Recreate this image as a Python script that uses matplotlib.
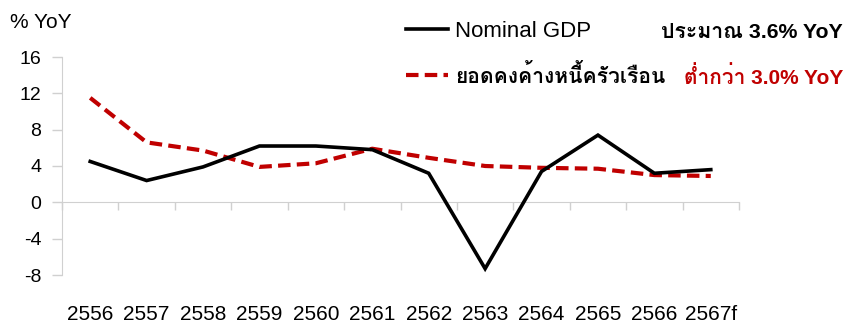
import matplotlib
matplotlib.use("Agg")
import matplotlib.pyplot as plt
import numpy as np

plt.rcParams['font.family'] = ['Liberation Sans', 'Loma']
plt.rcParams['axes.unicode_minus'] = False

years = ['2556', '2557', '2558', '2559', '2560', '2561',
         '2562', '2563', '2564', '2565', '2566', '2567f']
nominal_gdp = [4.5, 2.4, 3.9, 6.2, 6.2, 5.8, 3.2, -7.3, 3.4, 7.4, 3.2, 3.6]
household_debt = [11.5, 6.6, 5.7, 3.9, 4.3, 5.9, 4.9, 4.0, 3.8, 3.7, 3.0, 2.9]
yticks = [-8, -4, 0, 4, 8, 12, 16]

RED = '#C00000'
GREY = '#D0D0D0'

fig = plt.figure(figsize=(8.46, 3.25), dpi=100)
ax = fig.add_axes([62 / 846, 1 - 275 / 325, 677 / 846, 218 / 325])

x = np.arange(len(years))
ax.plot(x, household_debt, color=RED, lw=3.0, dashes=(3.0, 1.5),
        label='ยอดคงค้างหนี้ครัวเรือน', zorder=2)
ax.plot(x, nominal_gdp, color='black', lw=2.6, solid_joinstyle='miter',
        label='Nominal GDP', zorder=3)

ax.set_xlim(-0.5, len(years) - 0.5)
ax.set_ylim(-8, 16)
ax.set_yticks(yticks)
ax.tick_params(axis='y', length=7, width=1, color=GREY, pad=8, labelsize=14)

# category labels sit at the bottom, separators hang from the zero line
ax.set_xticks(x, years)
ax.set_xticks(np.arange(len(years) + 1) - 0.5, minor=True)
ax.tick_params(axis='x', which='major', length=0, pad=74, labelsize=15)
ax.tick_params(axis='x', which='minor', length=6, width=1, color=GREY)

for side in ('top', 'right'):
    ax.spines[side].set_visible(False)
ax.spines['bottom'].set_position(('data', 0))
ax.spines['left'].set_color(GREY)
ax.spines['bottom'].set_color(GREY)

fig.text(10 / 846, 1 - 22 / 325, '% YoY', fontsize=15, va='center')

handles, labels = ax.get_legend_handles_labels()
leg = fig.legend(handles[::-1], labels[::-1], loc='upper left',
                 bbox_to_anchor=(406 / 846, 1 - 21 / 325), frameon=False,
                 fontsize=16, handlelength=1.9, handletextpad=0.3,
                 labelspacing=1.0, borderaxespad=0, borderpad=0)
leg.get_texts()[1].set_fontweight('bold')
leg.get_texts()[1].set_fontsize(15.2)

fig.text(843 / 846, 1 - 33 / 325, 'ประมาณ 3.6% YoY', fontsize=15.3,
         fontweight='bold', ha='right', va='center')
fig.text(843 / 846, 1 - 77 / 325, 'ต่ำกว่า 3.0% YoY', fontsize=15,
         fontweight='bold', ha='right', va='center', color=RED)

fig.savefig('out.png', dpi=100)
